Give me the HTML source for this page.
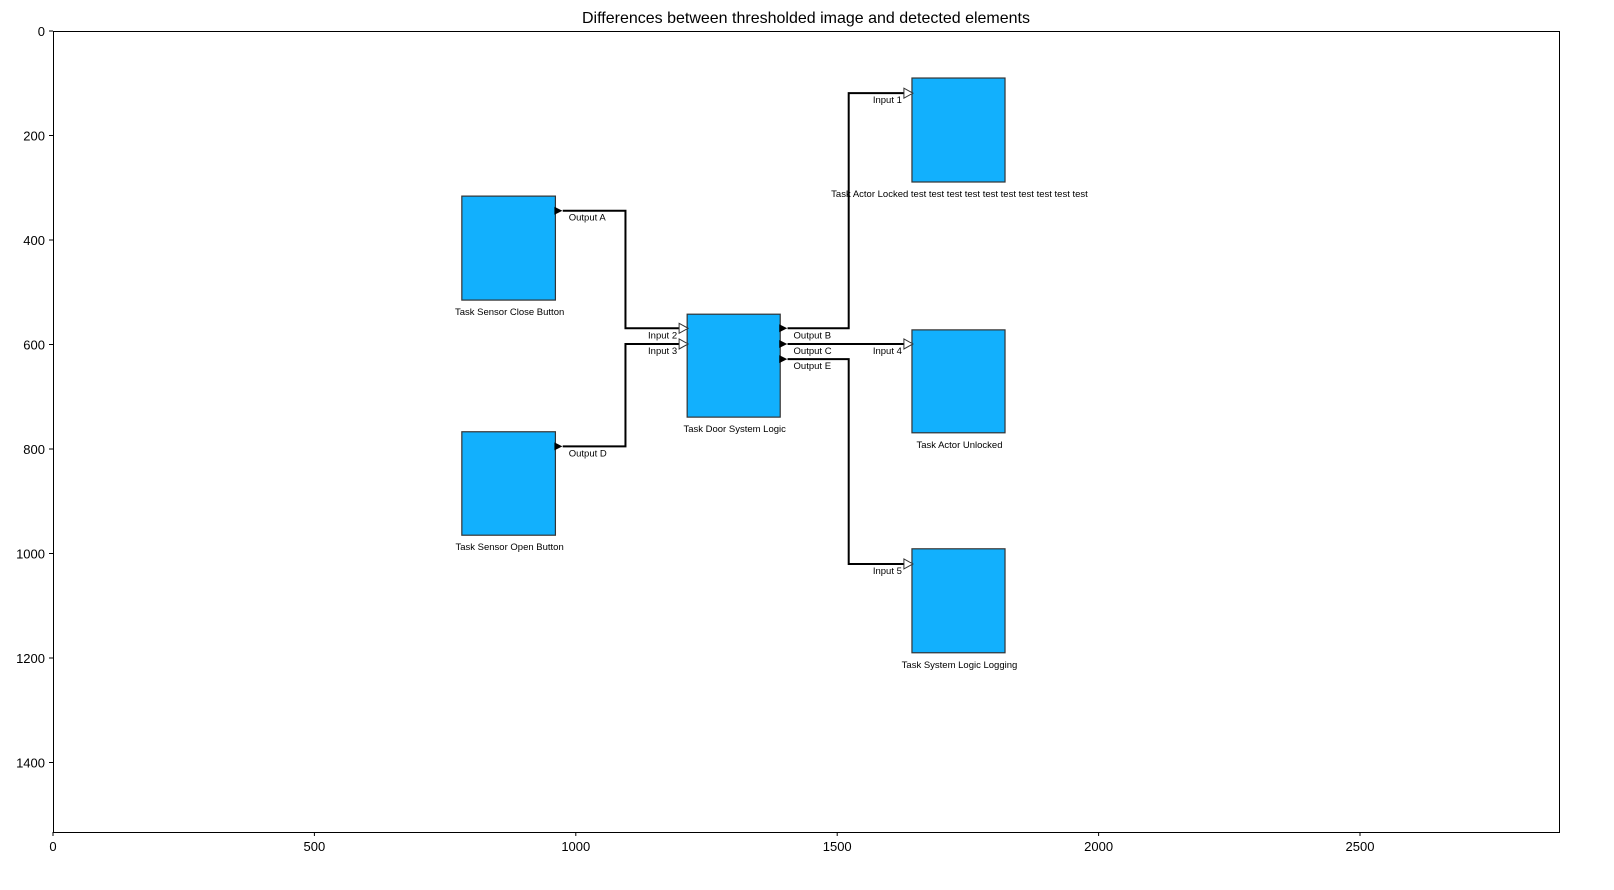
<!DOCTYPE html>
<html><head><meta charset="utf-8"><style>
body{margin:0;background:#fff;}
svg{display:block;font-family:"Liberation Sans","DejaVu Sans",sans-serif;}
</style></head><body>
<svg id="chart" width="1614" height="890" viewBox="0 0 1614 890">
<rect x="0" y="0" width="1614" height="890" fill="#fff"/>
<text x="806" y="23" text-anchor="middle" font-size="16" fill="#000">Differences between thresholded image and detected elements</text>
<g id="plot"></g>
<rect x="53.5" y="31.5" width="1506" height="801" fill="none" stroke="#000" stroke-width="1"/>
<g id="axes"></g>
</svg>
<script>
const xTicks=[0,500,1000,1500,2000,2500];
const yTicks=[0,200,400,600,800,1000,1200,1400];
const blockNames=["Task Sensor Close Button","Task Sensor Open Button","Task Door System Logic","Task Actor Locked test test test test test test test test test test","Task Actor Unlocked","Task System Logic Logging"];
const blockX=[782,782,1213,1643,1643,1643];
const blockY=[316,767,542,90,572,991];
const blockW=[179,179,178,178,178,178];
const blockH=[199,198,197,199,197,199];
const wireNames=["Output A","Output D","Output B","Output C","Output E"];
const wireLabels2=["Input 2","Input 3","Input 1","Input 4","Input 5"];
const wireX1=[975,975,1405,1405,1405];
const wireY1=[344,795,569,599,628];
const wireMidX=[1095,1095,1522,1522,1522];
const wireX2=[1211,1211,1641,1641,1641];
const wireY2=[569,599,119,599,1020];

const X0=53,Y0=31,SX=0.5228,SY=0.5225;
const sx=v=>X0+v*SX, sy=v=>Y0+v*SY;
const NS="http://www.w3.org/2000/svg";
function mk(t,a,p){const e=document.createElementNS(NS,t);for(const k in a)e.setAttribute(k,a[k]);p.appendChild(e);return e;}
const plot=document.getElementById('plot'), axes=document.getElementById('axes');

for(let i=0;i<wireNames.length;i++){
  const x1=sx(wireX1[i]),y1=sy(wireY1[i]),xm=sx(wireMidX[i]),x2=sx(wireX2[i]),y2=sy(wireY2[i]);
  const p=mk('polyline',{points:`${x1},${y1} ${xm},${y1} ${xm},${y2} ${x2-6},${y2}`,fill:'none',stroke:'#000','stroke-width':2},plot);
  
  
  const t=mk('text',{x:x1+6,y:y1+10,'font-size':9.5,fill:'#000'},plot);t.textContent=wireNames[i];
  
  
  const t2=mk('text',{x:x2-9,y:y2+10,'font-size':9.5,fill:'#000','text-anchor':'end'},plot);t2.textContent=wireLabels2[i];
  
  
}
for(let i=0;i<blockNames.length;i++){
  const x=sx(blockX[i]),y=sy(blockY[i]),w=blockW[i]*SX,h=blockH[i]*SY;
  const r=mk('rect',{x:x,y:y,width:w,height:h,fill:'#12b0fd',stroke:'#333','stroke-width':1.2},plot);
  
  
  const t=mk('text',{x:x+w/2+1,y:y+h+15,'font-size':9.5,fill:'#000','text-anchor':'middle'},plot);t.textContent=blockNames[i];
  
  
}
// ports
for(let i=0;i<wireNames.length;i++){
  const x1=sx(blockX[i<2?i:2]+blockW[i<2?i:2]),y1=sy(wireY1[i]);
  const o=mk('polygon',{points:`${x1-1},${y1-4} ${x1+7},${y1} ${x1-1},${y1+4}`,fill:'#000'},plot);
  
  
  const x2=sx(wireX2[i]),y2=sy(wireY2[i]);
  const inp=mk('polygon',{points:`${x2-7},${y2-5} ${x2+2},${y2} ${x2-7},${y2+5}`,fill:'#fff',stroke:'#333','stroke-width':1},plot);
  
  
}
for(const v of xTicks){
  const x=sx(v);
  const l=mk('line',{x1:x,y1:832,x2:x,y2:836,stroke:'#000'},axes);
  
  
  const t=mk('text',{x:x,y:851,'font-size':13,'text-anchor':'middle'},axes);t.textContent=v;
  
  
}
for(const v of yTicks){
  const y=sy(v);
  const l=mk('line',{x1:49,y1:y,x2:53,y2:y,stroke:'#000'},axes);
  
  
  const t=mk('text',{x:45,y:y+5,'font-size':13,'text-anchor':'end'},axes);t.textContent=v;
  
  
}
</script>
</body></html>
